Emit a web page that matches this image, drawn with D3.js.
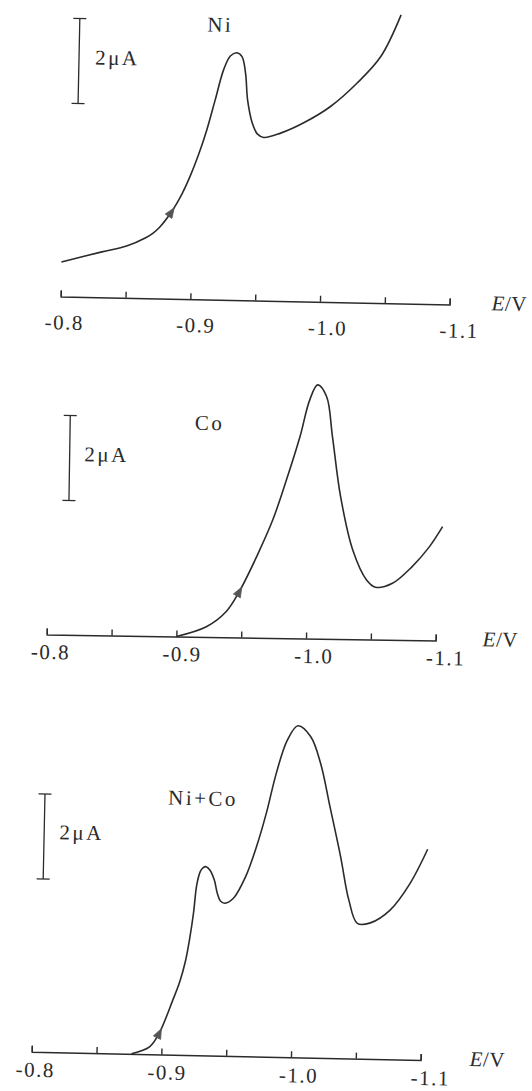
<!DOCTYPE html>
<html><head><meta charset="utf-8"><title>Ni, Co and Ni+Co stripping curves</title>
<script src="https://cdn.jsdelivr.net/npm/d3@7"></script>
<style>
  body { margin: 0; background: #fff; }
  text { font-family: "Liberation Serif", "Times New Roman", serif; fill: #2b2b2b; }
</style>
</head>
<body>
<svg id="chart" width="532" height="1091"></svg>
<script>
// potentials (V) and currents (uA, above the baseline)
const niE = [-0.800, -0.831, -0.850, -0.865, -0.870, -0.875, -0.884, -0.892, -0.898, -0.904, -0.910, -0.916, -0.922, -0.927,
             -0.932, -0.936, -0.939, -0.941, -0.945, -0.949, -0.954, -0.967, -0.985, -1.005, -1.025, -1.043, -1.058];
const niI = [0.81, 1.07, 1.22, 1.43, 1.53, 1.67, 2.04, 2.48, 2.90, 3.40, 3.99, 4.70, 5.41, 5.74,
             5.82, 5.73, 5.34, 4.71, 4.17, 3.92, 3.84, 3.95, 4.21, 4.60, 5.16, 5.80, 6.79];

const coE = [-0.900, -0.923, -0.938, -0.948, -0.961, -0.973, -0.983, -0.993, -1.000, -1.006,
             -1.013, -1.018, -1.025, -1.035, -1.046, -1.053, -1.066, -1.081, -1.094, -1.104];
const coI = [0, 0.24, 0.60, 1.08, 1.91, 2.78, 3.72, 4.75, 5.61, 5.97,
             5.70, 4.76, 3.35, 2.10, 1.40, 1.23, 1.33, 1.73, 2.20, 2.68];

const mixE = [-0.877, -0.891, -0.898, -0.908, -0.913, -0.917, -0.920, -0.9225, -0.9245, -0.927, -0.929, -0.9314,
              -0.9345, -0.938, -0.9405, -0.943, -0.9466, -0.953, -0.962, -0.970, -0.977, -0.984, -0.992,
              -1.000, -1.010, -1.018, -1.026, -1.035, -1.042, -1.049, -1.059, -1.074, -1.089, -1.102];
const mixI = [0, 0.18, 0.50, 1.29, 1.72, 2.20, 2.75, 3.35, 4.00, 4.32, 4.41, 4.44,
              4.36, 4.13, 3.82, 3.64, 3.59, 3.71, 4.22, 4.94, 5.73, 6.67, 7.46,
              7.80, 7.55, 6.93, 5.91, 4.74, 3.73, 3.18, 3.20, 3.51, 4.15, 4.96];

const tickValues = [-0.8, -0.85, -0.9, -0.95, -1.0, -1.05, -1.1];
const labelValues = [-0.8, -0.9, -1.0, -1.1];
const panelNames = ["Ni", "Co", "Ni+Co"];
const barValue = 2;
const barLabel = "2\u03bcA";

// where each panel sits on the page (the scan is a little tilted)
const panels = [
  {E: niE, I: niI, x0: 60.7, y0: 296.5, angle: 1.18, barX: 13.4, barLo: 4.55,
   barTx: 29.5, barTy: -232.7, nameX: 141, nameY: -268, labelDy: 33, evX: 431, arrow: 6},
  {E: coE, I: coI, x0: 46.7, y0: 634.5, angle: 0.88, barX: 20.2, barLo: 3.16,
   barTx: 35, barTy: -173.7, nameX: 145, nameY: -207, labelDy: 24.5, evX: 436, arrow: 3},
  {E: mixE, I: mixI, x0: 31.7, y0: 1051.7, angle: 1.22, barX: 7.8, barLo: 4.07,
   barTx: 23, barTy: -213, nameX: 131, nameY: -250, labelDy: 25, evX: 438, arrow: 2}
];

const L = 389;
const pxPerUA = 42.5;
const ink = "#2b2b2b";

const x = d3.scaleLinear().domain([-0.8, -1.1]).range([0, L]);
const xLabel = d3.scaleLinear().domain([-0.8, -1.1]).range([4, L + 10]);
const y = d3.scaleLinear().domain([0, 1]).range([0, -pxPerUA]);

const line = d3.line()
  .x(d => x(d[0]))
  .y(d => y(d[1]))
  .curve(d3.curveCatmullRom.alpha(0.5));

const svg = d3.select("#chart");
svg.append("rect").attr("width", 532).attr("height", 1091).attr("fill", "#fff");

panels.forEach((p, k) => {
  const g = svg.append("g")
    .attr("transform", `translate(${p.x0},${p.y0}) rotate(${p.angle})`);

  // potential axis, ticks pointing up
  const ax = g.append("g")
    .call(d3.axisTop(x).tickValues(tickValues).tickSize(6).tickFormat(""));
  ax.selectAll("path, line").attr("stroke", ink).attr("stroke-width", 1.4);

  g.selectAll(".tl").data(labelValues).enter().append("text")
    .attr("class", "tl")
    .attr("x", d => xLabel(d))
    .attr("y", p.labelDy)
    .attr("text-anchor", "middle")
    .attr("font-size", 21)
    .attr("letter-spacing", 1.5)
    .text(d => d.toFixed(1));

  const ev = g.append("text").attr("x", p.evX).attr("y", 5)
    .attr("font-size", 21).attr("letter-spacing", 0.5);
  ev.append("tspan").attr("font-style", "italic").text("E");
  ev.append("tspan").text("/V");

  // current scale bar
  const y1 = y(p.barLo), y2 = y(p.barLo + barValue);
  g.append("line").attr("x1", p.barX).attr("x2", p.barX).attr("y1", y1).attr("y2", y2)
    .attr("stroke", ink).attr("stroke-width", 1.3);
  [y1, y2].forEach(yy => {
    g.append("line").attr("x1", p.barX - 6.5).attr("x2", p.barX + 6.5).attr("y1", yy).attr("y2", yy)
      .attr("stroke", ink).attr("stroke-width", 1.3);
  });
  g.append("text").attr("x", p.barTx).attr("y", p.barTy)
    .attr("font-size", 21).attr("letter-spacing", 2.5).text(barLabel);

  g.append("text").attr("x", p.nameX).attr("y", p.nameY)
    .attr("font-size", 21).attr("letter-spacing", 2.5).text(panelNames[k]);

  // the curve
  const pts = p.E.map((e, i) => [e, p.I[i]]);
  g.append("path").datum(pts)
    .attr("d", line)
    .attr("fill", "none")
    .attr("stroke", ink)
    .attr("stroke-width", 1.6)
    .attr("stroke-linejoin", "round");

  // scan direction arrow
  const a = p.arrow;
  const px = x(pts[a][0]), py = y(pts[a][1]);
  const dx = x(pts[a + 1][0]) - x(pts[a - 1][0]);
  const dy = y(pts[a + 1][1]) - y(pts[a - 1][1]);
  const len = Math.hypot(dx, dy), ux = dx / len, uy = dy / len;
  const nx = -uy, ny = ux;
  const tip = [px + ux * 5, py + uy * 5];
  const b1 = [px - ux * 5 + nx * 4, py - uy * 5 + ny * 4];
  const b2 = [px - ux * 5 - nx * 4, py - uy * 5 - ny * 4];
  g.append("path")
    .attr("d", `M${tip}L${b1}L${b2}Z`)
    .attr("fill", "#555").attr("stroke", "#555").attr("stroke-width", 0.8);
});
</script>
</body>
</html>
